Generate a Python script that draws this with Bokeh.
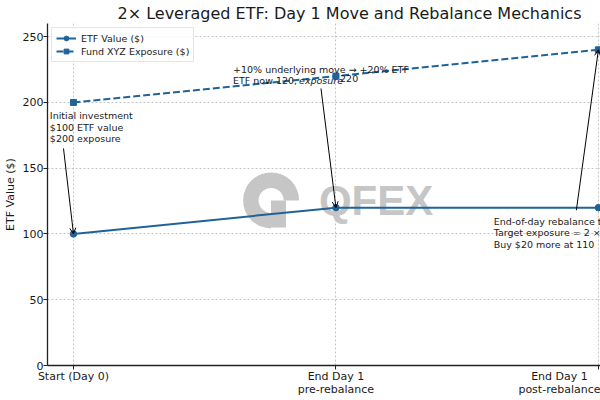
import numpy as np
from bokeh.plotting import figure
from bokeh.models import FixedTicker, Label, Arrow, OpenHead, Legend, LegendItem, Range1d
from bokeh.embed import file_html
from bokeh.resources import INLINE
from bokeh.core.properties import value

# ---- data ----
stages = [0, 1, 2]
stage_labels = ["Start (Day 0)", "End Day 1\npre-rebalance", "End Day 1\npost-rebalance"]
etf_value = [100, 120, 120]
exposure = [200, 220, 240]
y_ticks = [0, 50, 100, 150, 200, 250]

FONT = "DejaVu Sans"
BLUE = "#1f6399"
GREY = "#c6c6c6"
TXT = "#1a1a1a"

p = figure(width=600, height=400, output_backend="svg", toolbar_location=None,
           x_range=Range1d(-0.099, 2.008), y_range=Range1d(0, 260),
           title="2× Leveraged ETF: Day 1 Move and Rebalance Mechanics",
           min_border_left=46, min_border_right=0, min_border_top=23, min_border_bottom=35)

p.title.text_font = FONT
p.title.text_font_size = "16px"
p.title.text_font_style = "normal"
p.title.text_color = TXT
p.title.align = "left"
p.title.offset = 70
p.title.standoff = 1

p.outline_line_color = None
p.background_fill_color = "white"
p.border_fill_color = "white"

p.xaxis.ticker = FixedTicker(ticks=stages)
p.xaxis.major_label_overrides = {s: lab for s, lab in zip(stages, stage_labels)}
p.yaxis.ticker = FixedTicker(ticks=y_ticks)
p.yaxis.axis_label = "ETF Value ($)"

for ax in (p.xaxis, p.yaxis):
    ax.major_label_text_font = FONT
    ax.major_label_text_font_size = "11px"
    ax.major_label_text_color = TXT
    ax.major_label_text_line_height = 1.0
    ax.axis_label_text_font = FONT
    ax.axis_label_text_font_size = "11px"
    ax.axis_label_text_font_style = "normal"
    ax.axis_label_text_color = TXT
    ax.major_tick_out = 4
    ax.major_tick_in = 0
    ax.minor_tick_out = 0
    ax.minor_tick_in = 0
    ax.axis_line_color = "#222222"
    ax.axis_line_width = 1.3
    ax.major_tick_line_color = "#222222"
    ax.major_label_standoff = 0
    ax.axis_label_standoff = 3

p.grid.grid_line_color = "#b5b5b5"
p.grid.grid_line_dash = "2 2"
p.grid.grid_line_width = 0.8

# ---- watermark (QFEX) ----
p.annular_wedge(x=0.753, y=125.5, inner_radius=12.5, outer_radius=28,
                inner_radius_units="screen", outer_radius_units="screen",
                start_angle=0, end_angle=1.5 * np.pi, fill_color=GREY, line_color=None)
p.rect(x=0.781, y=115.2, width=15, height=27, width_units="screen", height_units="screen",
       fill_color=GREY, line_color=None)
p.text(x=[0.935], y=[125.5], text=["QFEX"], text_font=value("Liberation Sans"),
       text_font_style="bold", text_font_size="42px", text_baseline="middle",
       text_align="left", text_color=GREY)

# ---- series ----
r1 = p.line(stages, etf_value, line_color=BLUE, line_width=2)
r1m = p.scatter(stages, etf_value, marker="circle", size=6.5, fill_color=BLUE, line_color=BLUE)
r2 = p.line(stages, exposure, line_color=BLUE, line_width=2, line_dash="7 3")
r2m = p.scatter(stages, exposure, marker="square", size=6, fill_color=BLUE, line_color=BLUE)

legend = Legend(items=[LegendItem(label="ETF Value ($)", renderers=[r1, r1m]),
                       LegendItem(label="Fund XYZ Exposure ($)", renderers=[r2, r2m])],
                location="top_left", label_text_font=FONT, label_text_font_size="9.5px",
                label_text_color=TXT, border_line_color="#cccccc", background_fill_alpha=0.85,
                padding=4, spacing=1, margin=4, glyph_width=20, glyph_height=12,
                label_height=12, label_standoff=5)
p.add_layout(legend)

# ---- annotations ----
def lab(x, y, text, xo=0, yo=0, style="normal"):
    p.add_layout(Label(x=x, y=y, text=text, x_offset=xo, y_offset=yo, text_font=FONT,
                       text_font_size="9.5px", text_font_style=style, text_color=TXT,
                       text_baseline="top", text_align="left", text_line_height=1.05))

lab(-0.09, 194, "Initial investment\n$100 ETF value\n$200 exposure")
lab(0.608, 229.5, "+10% underlying move → +20% ETF")
lab(0.608, 229.5, "ETF now 120, ", yo=-11)
lab(0.608, 229.5, "exposure", xo=66, yo=-11, style="italic")
lab(0.608, 229.5, "220", xo=107, yo=-11)
lab(1.601, 114, "End-of-day rebalance to 2×\nTarget exposure = 2 × 120 = 240\nBuy $20 more at 110")

def arrow(xs, ys, xe, ye):
    p.add_layout(Arrow(end=OpenHead(size=6, line_width=1, line_color="black"),
                       x_start=xs, y_start=ys, x_end=xe, y_end=ye,
                       line_width=1, line_color="black"))

arrow(-0.038, 165, stages[0], etf_value[0])
arrow(0.943, 210.6, stages[1], etf_value[1])
arrow(1.916, 118, stages[2], exposure[2])

open("out.html", "w").write(file_html(p, INLINE))
